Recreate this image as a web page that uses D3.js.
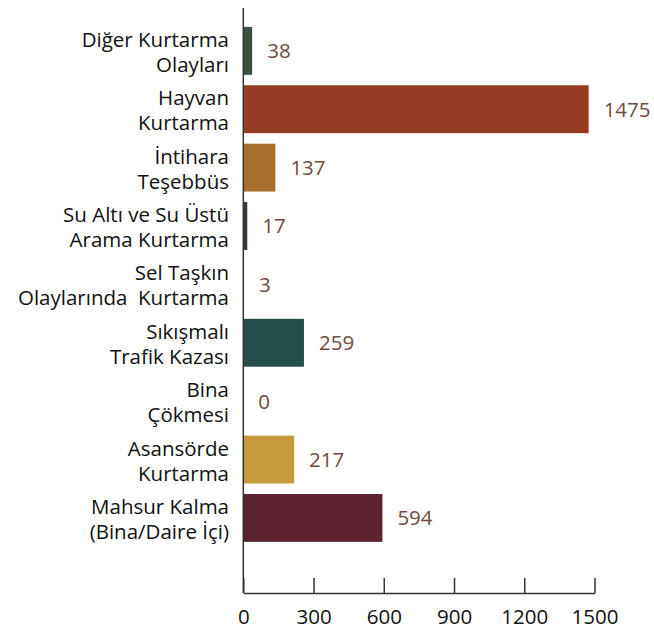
<!DOCTYPE html>
<html><head><meta charset="utf-8">
<script src="https://cdn.jsdelivr.net/npm/d3@7"></script>
<style>body{margin:0;background:#fff}svg{display:block}text{white-space:pre}</style>
</head><body>
<script>
const categories = [
  ["Diğer Kurtarma","Olayları"],
  ["Hayvan","Kurtarma"],
  ["İntihara","Teşebbüs"],
  ["Su Altı ve Su Üstü","Arama Kurtarma"],
  ["Sel Taşkın","Olaylarında  Kurtarma"],
  ["Sıkışmalı","Trafik Kazası"],
  ["Bina","Çökmesi"],
  ["Asansörde","Kurtarma"],
  ["Mahsur Kalma","(Bina/Daire İçi)"]
];
const values = [38, 1475, 137, 17, 3, 259, 0, 217, 594];
const colors = ["#3a5240","#943b21","#a86f2c","#3b3447","#4a2a22","#254f4d","#555","#c49a3c","#5e2330"];
const ticks = [0, 300, 600, 900, 1200, 1500];

const W = 654, H = 630;
const font = "'Open Sans', sans-serif";
const svg = d3.select("body").append("svg").attr("width", W).attr("height", H);

const x = d3.scaleLinear().domain([0, 1500]).range([243.3, 594.5]);
const y = d3.scaleBand().domain(d3.range(values.length)).range([8, 593])
  .paddingInner(0.18).paddingOuter(0.6).align(0.27);

svg.append("g").selectAll("rect").data(values).join("rect")
  .attr("x", x(0)).attr("y", (d,i) => y(i))
  .attr("width", d => x(d) - x(0)).attr("height", y.bandwidth())
  .attr("fill", (d,i) => colors[i]);

// value labels
svg.append("g").selectAll("text").data(values).join("text")
  .attr("x", d => x(d) + 15).attr("y", (d,i) => y(i) + y.bandwidth()/2)
  .attr("dy", "0.36em")
  .attr("font-family", font).attr("font-size", 20.5).attr("fill", "#6e4b3e")
  .text(d => d);

// category labels
const lab = svg.append("g").selectAll("text").data(categories).join("text")
  .attr("text-anchor", "end")
  .attr("font-family", font).attr("font-size", 20.5).attr("fill", "#111");
lab.each(function(d, i) {
  const t = d3.select(this);
  const cy = y(i) + y.bandwidth()/2;
  d.forEach((line, k) => {
    t.append("tspan").attr("x", 229).attr("y", cy - 4 + k * 25).text(line);
  });
});

// y axis line
svg.append("line").attr("x1", x(0)).attr("x2", x(0)).attr("y1", 8).attr("y2", 593)
  .attr("stroke", "#333").attr("stroke-width", 1.5);

// x axis
const xAxis = d3.axisBottom(x).tickValues(ticks).tickFormat(d3.format("d"))
  .tickSizeInner(-15).tickSizeOuter(0).tickPadding(16);
const gx = svg.append("g").attr("transform", `translate(0,593)`).call(xAxis);
gx.select(".domain").attr("stroke", "#333").attr("stroke-width", 1.5);
gx.selectAll(".tick line").attr("stroke", "#333").attr("stroke-width", 1.5);
gx.selectAll(".tick text").attr("font-family", font).attr("font-size", 20.5).attr("fill", "#111");
</script>
</body></html>
